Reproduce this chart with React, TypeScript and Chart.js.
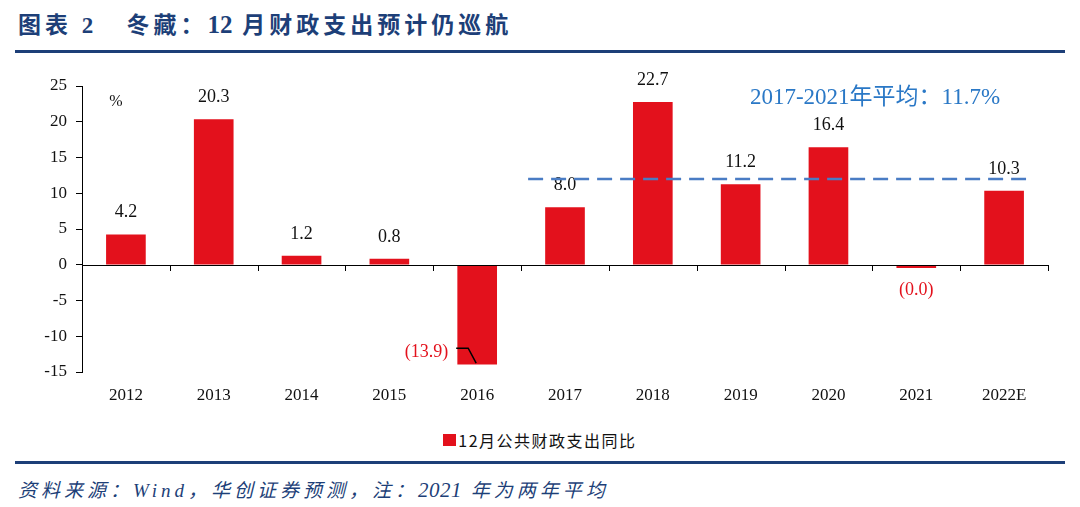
import React, { useEffect, useRef } from "react";
import { Chart, registerables } from "chart.js";

Chart.register(...registerables);

const categories = ["2012", "2013", "2014", "2015", "2016", "2017", "2018", "2019", "2020", "2021", "2022E"];
const values = [4.2, 20.3, 1.2, 0.8, -13.9, 8.0, 22.7, 11.2, 16.4, -0.04, 10.3];
const averageValue = 11.7;
const averageFrom = 5;
const averageTo = 10;
const yTicks = [-15, -10, -5, 0, 5, 10, 15, 20, 25];

const RED = "#e3111c";
const BLUE_TEXT = "#2a78c6";
const DASH_BLUE = "#4a7cc4";
const NAVY = "#1d3f78";
const SERIF = "'Liberation Serif', 'Noto Sans CJK SC', serif";

const fmt = (v: number) => (v < 0 ? `(${Math.abs(v).toFixed(1)})` : v.toFixed(1));

const overlay = {
  id: "overlay",
  afterDatasetsDraw(chart: any) {
    const { ctx, chartArea, scales } = chart;
    const x = scales.x;
    const y = scales.y;
    const y0 = y.getPixelForValue(0);
    ctx.save();
    ctx.strokeStyle = "#000";
    ctx.lineWidth = 1;
    ctx.beginPath();
    ctx.moveTo(chartArea.left, Math.round(y0) + 0.5);
    ctx.lineTo(chartArea.right, Math.round(y0) + 0.5);
    ctx.stroke();
    const n = categories.length;
    const w = (chartArea.right - chartArea.left) / n;
    for (let i = 1; i <= n; i++) {
      const px = Math.round(chartArea.left + w * i) + 0.5;
      ctx.beginPath();
      ctx.moveTo(px, Math.round(y0));
      ctx.lineTo(px, Math.round(y0) + 6);
      ctx.stroke();
    }
    const meta = chart.getDatasetMeta(0);
    ctx.font = `18px ${SERIF}`;
    ctx.textBaseline = "middle";
    meta.data.forEach((bar: any, i: number) => {
      const v = values[i];
      if (v >= 0) {
        ctx.fillStyle = "#111";
        ctx.textAlign = "center";
        ctx.fillText(fmt(v), bar.x, bar.y - 22);
      } else if (v < -1) {
        ctx.fillStyle = RED;
        ctx.textAlign = "right";
        ctx.fillText(fmt(v), bar.x - 29, bar.y - 12);
        ctx.strokeStyle = "#000";
        ctx.lineWidth = 1.5;
        ctx.beginPath();
        ctx.moveTo(bar.x - 21, bar.y - 16);
        ctx.lineTo(bar.x - 9, bar.y - 16);
        ctx.lineTo(bar.x - 1, bar.y - 1);
        ctx.stroke();
      } else {
        ctx.fillStyle = RED;
        ctx.textAlign = "center";
        ctx.fillText(fmt(v), bar.x, y0 + 26);
      }
    });
    const ya = y.getPixelForValue(averageValue) - 2;
    const xa = x.getPixelForValue(averageFrom) - w * 0.42;
    const xb = x.getPixelForValue(averageTo) + w * 0.25;
    ctx.strokeStyle = DASH_BLUE;
    ctx.lineWidth = 2.5;
    ctx.setLineDash([15, 8]);
    ctx.beginPath();
    ctx.moveTo(xa, ya);
    ctx.lineTo(xb, ya);
    ctx.stroke();
    ctx.setLineDash([]);
    ctx.fillStyle = "#111";
    ctx.textAlign = "center";
    ctx.font = `16px ${SERIF}`;
    ctx.fillText("%", x.getPixelForValue(0) - 10, y.getPixelForValue(22.8));
    ctx.fillStyle = BLUE_TEXT;
    ctx.font = `23px ${SERIF}`;
    ctx.fillText(`2017-2021年平均：${averageValue}%`, x.getPixelForValue(8.53), y.getPixelForValue(23.3));
    ctx.restore();
  },
};

export default function App() {
  const ref = useRef<HTMLCanvasElement>(null);
  useEffect(() => {
    if (!ref.current) return;
    const chart = new Chart(ref.current, {
      type: "bar",
      data: {
        labels: categories,
        datasets: [
          {
            label: "12月公共财政支出同比",
            data: values,
            backgroundColor: RED,
            borderWidth: 0,
            barThickness: 39,
            minBarLength: 3,
          },
        ],
      },
      options: {
        animation: false,
        responsive: false,
        maintainAspectRatio: false,
        layout: { padding: { left: 0, right: 32, top: 26, bottom: 0 } },
        plugins: { legend: { display: false }, tooltip: { enabled: false } },
        scales: {
          x: {
            grid: { display: false },
            border: { display: false },
            ticks: { color: "#111", font: { family: SERIF, size: 17 }, padding: 5 },
            afterFit: (s: any) => {
              s.height = 48;
            },
          },
          y: {
            min: -15,
            max: 25,
            afterBuildTicks: (s: any) => {
              s.ticks = yTicks.map((v) => ({ value: v }));
            },
            grid: { drawOnChartArea: false, drawTicks: true, tickLength: 6, color: "#000" },
            border: { display: true, color: "#000", width: 1 },
            ticks: { color: "#111", font: { family: SERIF, size: 17 }, padding: 9 },
            afterFit: (s: any) => {
              s.width = 82;
            },
          },
        },
      },
      plugins: [overlay],
    });
    return () => chart.destroy();
  }, []);

  return (
    <div style={{ position: "absolute", left: 0, top: 0, width: 1080, height: 507, background: "#fff", overflow: "hidden" }}>
      <div
        style={{
          position: "absolute",
          left: 18,
          top: 6,
          fontFamily: SERIF,
          fontWeight: "bold",
          fontSize: 23,
          color: NAVY,
          whiteSpace: "pre",
          letterSpacing: 4,
        }}
      >
        {"图表 2   冬藏："}
        <span style={{ letterSpacing: 0, fontSize: 25 }}>12</span>
        {" 月财政支出预计仍巡航"}
      </div>
      <div style={{ position: "absolute", left: 15, top: 50, width: 1050, height: 3, background: NAVY }} />
      <canvas ref={ref} width={1080} height={360} style={{ position: "absolute", left: 0, top: 60, width: 1080, height: 360 }} />
      <div
        style={{
          position: "absolute",
          left: 0,
          width: 1080,
          top: 428,
          display: "flex",
          justifyContent: "center",
          alignItems: "center",
          fontFamily: "'Noto Sans CJK SC', sans-serif",
          fontSize: 16,
          letterSpacing: 1.5,
          color: "#111",
        }}
      >
        <span style={{ display: "inline-block", width: 13, height: 12, background: RED, marginRight: 2 }} />
        <span>12月公共财政支出同比</span>
      </div>
      <div style={{ position: "absolute", left: 15, top: 461, width: 1050, height: 3, background: NAVY }} />
      <div
        style={{
          position: "absolute",
          left: 18,
          top: 475,
          fontFamily: SERIF,
          fontStyle: "italic",
          fontSize: 19,
          letterSpacing: 4,
          color: NAVY,
          whiteSpace: "pre",
        }}
      >
        {"资料来源：Wind，华创证券预测，注："}
        <span style={{ letterSpacing: 0.5, fontSize: 21 }}>2021</span>
        {" 年为两年平均"}
      </div>
    </div>
  );
}
